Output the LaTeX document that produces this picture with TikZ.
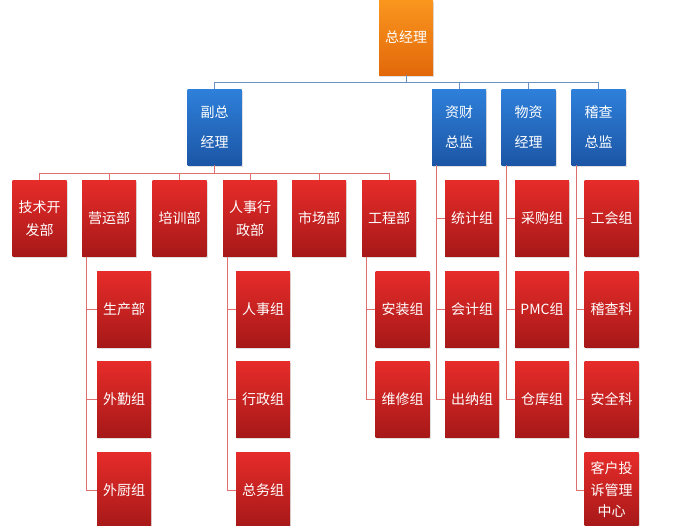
\documentclass[tikz,border=0pt]{standalone}
\usepackage{fontspec}
\newfontfamily\cjk{Noto Sans CJK SC}
\usetikzlibrary{shadows}
\definecolor{orT}{RGB}{250,150,30}
\definecolor{orB}{RGB}{226,104,10}
\definecolor{blT}{RGB}{46,128,218}
\definecolor{blB}{RGB}{28,86,166}
\definecolor{rdT}{RGB}{230,44,42}
\definecolor{rdB}{RGB}{166,24,24}
\definecolor{blLine}{RGB}{105,145,195}
\definecolor{rdLine}{RGB}{224,112,112}
\tikzset{
  box/.style={minimum width=54pt, minimum height=76pt, inner sep=0pt, text=white, align=center,
    font=\cjk\fontsize{14}{23}\selectfont,
    drop shadow={opacity=0.25, shadow xshift=1pt, shadow yshift=-1.5pt}},
  orbox/.style={box, top color=orT, bottom color=orB, minimum height=75pt},
  blbox/.style={box, top color=blT, bottom color=blB},
  rdbox/.style={box, top color=rdT, bottom color=rdB},
  bline/.style={draw=blLine, line width=0.9pt},
  rline/.style={draw=rdLine, line width=0.9pt},
}
\begin{document}
\begin{tikzpicture}[x=1pt, y=-1pt]
\useasboundingbox (0,0) rectangle (684,525);
% top
\node[orbox] (gm) at (406,37.5) {总经理};
% level 2
\node[blbox] (vp) at (214.5,127) {副总\\[7pt]经理};
\node[blbox] (zc) at (459,127) {资财\\[7pt]总监};
\node[blbox] (wz) at (528.5,127) {物资\\[7pt]经理};
\node[blbox] (jc) at (598.5,127) {稽查\\[7pt]总监};
% level 3
\node[rdbox] (js) at (39.5,218.5) {技术开\\发部};
\node[rdbox] (yy) at (109,218.5) {营运部};
\node[rdbox] (px) at (179.5,218.5) {培训部};
\node[rdbox] (rs) at (250,218.5) {人事行\\政部};
\node[rdbox] (sc) at (319,218.5) {市场部};
\node[rdbox] (gc) at (389,218.5) {工程部};
\node[rdbox] (tj) at (472,218.5) {统计组};
\node[rdbox] (cg) at (542,218.5) {采购组};
\node[rdbox] (gh) at (611.5,218.5) {工会组};
% level 4+
\node[rdbox] (scb) at (124,309.5) {生产部};
\node[rdbox] (wq) at (124,399.5) {外勤组};
\node[rdbox] (wc) at (124,490) {外厨组};
\node[rdbox] (rsz) at (263,309.5) {人事组};
\node[rdbox] (xz) at (263,399.5) {行政组};
\node[rdbox] (zw) at (263,490) {总务组};
\node[rdbox] (az) at (402.5,309.5) {安装组};
\node[rdbox] (wx) at (402.5,399.5) {维修组};
\node[rdbox] (kj) at (472,309.5) {会计组};
\node[rdbox] (cn) at (472,399.5) {出纳组};
\node[rdbox] (pmc) at (542,309.5) {PMC组};
\node[rdbox] (ck) at (542,399.5) {仓库组};
\node[rdbox] (jck) at (611.5,309.5) {稽查科};
\node[rdbox] (aq) at (611.5,399.5) {安全科};
\node[rdbox, font=\cjk\fontsize{14}{21.5}\selectfont] (kh) at (611.5,490) {客户投\\诉管理\\中心};
% blue connectors
\foreach \c in {vp,zc,wz,jc}
  \draw[bline] (gm.south) -- ++(0,7) -| (\c.north);
% red connectors from vp
\foreach \c in {js,yy,px,rs,sc,gc}
  \draw[rline] (vp.south) -- ++(0,8) -| (\c.north);
% side connectors
\foreach \p/\c in {yy/scb,yy/wq,yy/wc,rs/rsz,rs/xz,rs/zw,gc/az,gc/wx,
                   zc/tj,zc/kj,zc/cn,wz/cg,wz/pmc,wz/ck,jc/gh,jc/jck,jc/aq,jc/kh}
  \draw[rline] ([xshift=5pt]\p.south west) |- (\c.west);
\end{tikzpicture}
\end{document}
